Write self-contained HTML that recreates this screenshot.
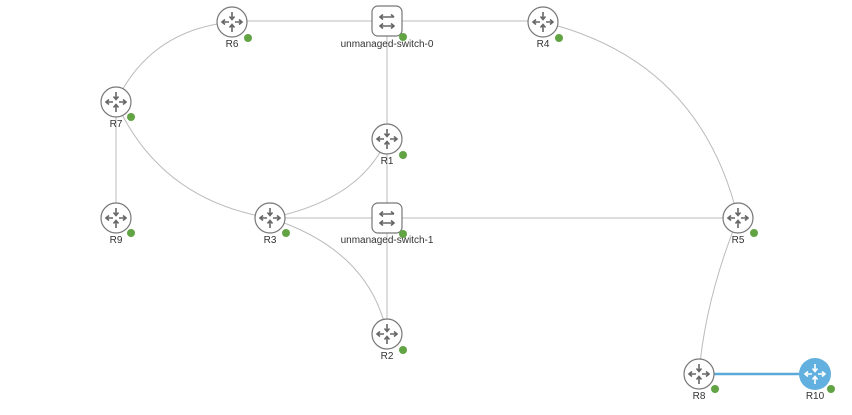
<!DOCTYPE html>
<html><head><meta charset="utf-8"><style>
html,body{margin:0;padding:0;background:#fff;}
svg{display:block}
text{font-family:"Liberation Sans",sans-serif;font-size:10px;fill:#333;text-anchor:middle}
</style></head><body>
<svg width="852" height="415" viewBox="0 0 852 415" xmlns="http://www.w3.org/2000/svg">
<defs>
<g id="ra">
  <path d="M0,-10 L0,-3 M-2.5,-5.5 L0,-2.5 L2.5,-5.5" stroke="currentColor" stroke-width="1.6" fill="none"/>
  <path d="M0,10 L0,3 M-2.5,5.5 L0,2.5 L2.5,5.5" stroke="currentColor" stroke-width="1.6" fill="none"/>
  <path d="M-3,0 L-10,0 M-7,-2.5 L-10,0 L-7,2.5" stroke="currentColor" stroke-width="1.6" fill="none"/>
  <path d="M3,0 L10,0 M7,-2.5 L10,0 L7,2.5" stroke="currentColor" stroke-width="1.6" fill="none"/>
</g>
<g id="router">
  <circle r="15" fill="#fff" stroke="#777" stroke-width="1.2"/>
  <use href="#ra" style="color:#666"/>
</g>
<g id="switch">
  <rect x="-15" y="-15" width="30" height="30" rx="6" fill="#fff" stroke="#777" stroke-width="1.2"/>
  <path d="M-7,-4 L7,-4 M-4,-6.5 L-7,-4 L-4,-1.5 M4,-6.5 L7,-4" stroke="#666" stroke-width="1.6" fill="none"/>
  <path d="M-7,5 L7,5 M-4,2.5 L-7,5 L-4,7.5 M4,2.5 L7,5 L4,7.5" stroke="#666" stroke-width="1.6" fill="none"/>
</g>
<g id="dot"><circle r="4" fill="#62a344"/></g>
</defs>
<g stroke="#bbb" stroke-width="1" fill="none">
  <line x1="232" y1="21" x2="543" y2="21"/>
  <path d="M232,22 Q150,30 116,102"/>
  <path d="M543,22 Q700,60 738,218"/>
  <line x1="116" y1="102" x2="116" y2="218"/>
  <path d="M116,102 Q160,200 270,218"/>
  <line x1="387" y1="21" x2="387" y2="334"/>
  <path d="M387,139 Q360,200 270,218"/>
  <line x1="270" y1="218" x2="738" y2="218"/>
  <path d="M270,218 Q370,250 387,334"/>
  <path d="M738,218 Q705,300 699,374"/>
</g>
<line x1="699" y1="374" x2="815" y2="374" stroke="#5aa9d8" stroke-width="2.5"/>
<use href="#router" x="232" y="22"/><text x="232" y="47">R6</text><use href="#dot" x="248" y="38"/>
<use href="#switch" x="387" y="21"/><text x="387" y="47">unmanaged-switch-0</text><use href="#dot" x="403" y="37"/>
<use href="#router" x="543" y="22"/><text x="543" y="47">R4</text><use href="#dot" x="559" y="38"/>
<use href="#router" x="116" y="102"/><text x="116" y="127">R7</text><use href="#dot" x="131" y="117"/>
<use href="#router" x="387" y="139"/><text x="387" y="164">R1</text><use href="#dot" x="403" y="155"/>
<use href="#router" x="116" y="218"/><text x="116" y="243">R9</text><use href="#dot" x="131" y="233"/>
<use href="#router" x="270" y="218"/><text x="270" y="243">R3</text><use href="#dot" x="286" y="233"/>
<use href="#switch" x="387" y="218"/><text x="387" y="243">unmanaged-switch-1</text><use href="#dot" x="403" y="234"/>
<use href="#router" x="738" y="218"/><text x="738" y="243">R5</text><use href="#dot" x="754" y="233"/>
<use href="#router" x="387" y="334"/><text x="387" y="359">R2</text><use href="#dot" x="403" y="350"/>
<use href="#router" x="699" y="374"/><text x="699" y="399">R8</text><use href="#dot" x="715" y="389"/>
<circle cx="815" cy="374" r="16" fill="#62b0e0"/><use href="#ra" x="815" y="374" style="color:#fff"/>
<text x="815" y="399">R10</text><use href="#dot" x="831" y="389"/>
</svg>
</body></html>
